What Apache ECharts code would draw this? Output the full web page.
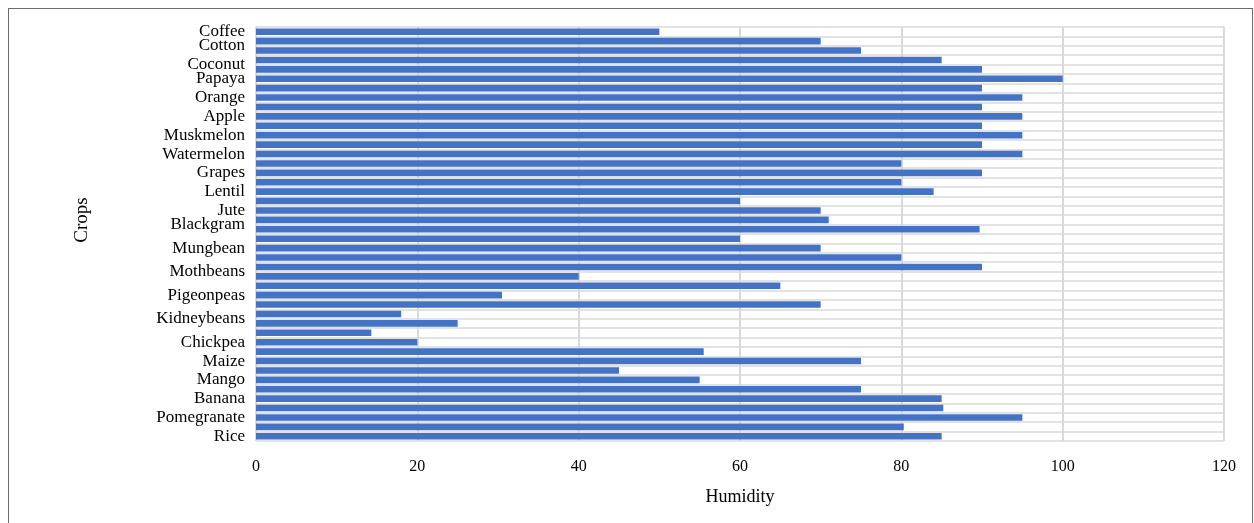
<!DOCTYPE html>
<html>
<head>
<meta charset="utf-8">
<script src="https://cdn.jsdelivr.net/npm/echarts@6/dist/echarts.min.js"></script>
<style>
  html, body { margin: 0; padding: 0; background: #fff; }
  #frame { position: absolute; left: 8px; top: 8px; width: 1245px; height: 515px;
           border-top: 1px solid #6b6b6b; border-left: 1px solid #6b6b6b; border-right: 1px solid #6b6b6b; box-sizing: border-box; }
  #chart { position: absolute; left: 0; top: 0; width: 1254px; height: 523px; }
</style>
</head>
<body>
<div id="frame"></div>
<div id="chart"></div>
<script>
// Humidity for each bar row, top to bottom.
const humidity = [
  50, 70, 75, 85, 90, 100, 90, 95, 90, 95,
  90, 95, 90, 95, 80, 90, 80, 84, 60, 70,
  71, 89.7, 60, 70, 80, 90, 40, 65, 30.5, 70,
  18, 25, 14.3, 20, 55.5, 75, 45, 55, 75, 85,
  85.2, 95, 80.3, 85
];

// Crop names on a half-row label track (two slots per bar row).
const cropLabels = [
  'Coffee', '', '', 'Cotton', '', '', '', 'Coconut',
  '', '', 'Papaya', '', '', '', 'Orange', '',
  '', '', 'Apple', '', '', '', 'Muskmelon', '',
  '', '', 'Watermelon', '', '', '', 'Grapes', '',
  '', '', 'Lentil', '', '', '', 'Jute', '',
  '', 'Blackgram', '', '', '', '', 'Mungbean', '',
  '', '', '', 'Mothbeans', '', '', '', '',
  'Pigeonpeas', '', '', '', '', 'Kidneybeans', '', '',
  '', '', 'Chickpea', '', '', '', 'Maize', '',
  '', '', 'Mango', '', '', '', 'Banana', '',
  '', '', 'Pomegranate', '', '', '', 'Rice', ''
];

const xTicks = { min: 0, max: 120, interval: 20 };

const serif = '"Liberation Serif", "DejaVu Serif", serif';
const gridGray = '#d9d9d9';
const rowIds = humidity.map((_, i) => 'row' + (i + 1));

const chart = echarts.init(document.getElementById('chart'), null, { renderer: 'canvas' });
chart.setOption({
  animation: false,
  backgroundColor: 'transparent',
  grid: { left: 256, right: 30, top: 27, bottom: 82, containLabel: false },
  xAxis: {
    type: 'value',
    min: xTicks.min, max: xTicks.max, interval: xTicks.interval,
    name: 'Humidity',
    nameLocation: 'middle',
    nameGap: 47,
    nameTextStyle: { fontFamily: serif, fontSize: 18, color: '#000' },
    axisLine: { show: false },
    axisTick: { show: false },
    axisLabel: { fontFamily: serif, fontSize: 16, color: '#000', margin: 18 },
    splitLine: { show: true, lineStyle: { color: gridGray, width: 2 } }
  },
  yAxis: [{
    // bar rows with their separating gridlines
    type: 'category',
    inverse: true,
    data: rowIds,
    position: 'left',
    axisLine: { show: false },
    axisTick: { show: false },
    axisLabel: { show: false },
    splitLine: { show: true, interval: 0, lineStyle: { color: gridGray, width: 1.5 } }
  }, {
    // crop name track
    type: 'category',
    inverse: true,
    data: cropLabels,
    position: 'left',
    offset: 0,
    name: 'Crops',
    nameLocation: 'middle',
    nameGap: 164,
    nameRotate: 90,
    nameTextStyle: { fontFamily: serif, fontSize: 19, color: '#000', padding: [0, 0, 0, 28] },
    axisLine: { show: false },
    axisTick: { show: false },
    axisLabel: {
      interval: 0, color: '#000', margin: 11,
      formatter: v => (v ? '{n|' + v + '}' : ''),
      rich: { n: { fontFamily: serif, fontSize: 17, color: '#000', padding: [5, 0, 0, 0] } }
    },
    splitLine: { show: false }
  }],
  series: [{
    type: 'bar',
    yAxisIndex: 0,
    data: humidity,
    barCategoryGap: '30%',
    itemStyle: { color: '#4472c4' },
    silent: true
  }]
});
</script>
</body>
</html>
